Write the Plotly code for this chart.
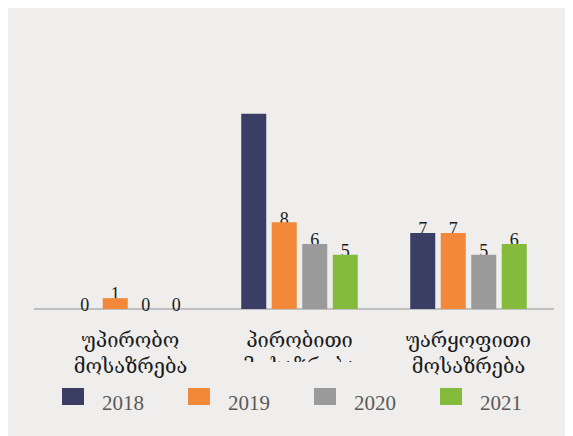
import plotly.graph_objects as go

categories = ["უპირობო<br>მოსაზრება", "პირობითი<br>მოსაზრება", "უარყოფითი<br>მოსაზრება"]
series_names = ["2018", "2019", "2020", "2021"]
values_2018 = [0, 18, 7]
values_2019 = [1, 8, 7]
values_2020 = [0, 6, 5]
values_2021 = [0, 5, 6]
labels_2018 = ["0", "", "7"]
labels_2019 = ["1", "8", "7"]
labels_2020 = ["0", "6", "5"]
labels_2021 = ["0", "5", "6"]
colors = ["#3B3E64", "#F2883A", "#999A99", "#84BB3C"]

all_values = [values_2018, values_2019, values_2020, values_2021]
all_labels = [labels_2018, labels_2019, labels_2020, labels_2021]

OFF = 8  # page body margin
W, H = 573 - OFF, 436 - OFF
ML, PW = 46 - OFF, 507
MR = W - ML - PW
BOTTOM_PAGE = 309
PH = 217
MT = BOTTOM_PAGE - OFF - PH
MB = H - MT - PH

def px(x):  # page pixel -> paper
    return (x - OFF - ML) / PW

def py(y):
    return (BOTTOM_PAGE - y) / PH

bargap = 0.278
bargroupgap = 0.18
n = len(series_names)
slot = (1 - bargap) / n
xs = list(range(len(categories)))

fig = go.Figure()

# value labels (drawn underneath bars)
for j in range(n):
    off = -(1 - bargap) / 2 + slot * (j + 0.5)
    fig.add_trace(go.Scatter(
        x=[x + off for x in xs], y=all_values[j], text=all_labels[j],
        mode="text", textposition="middle center",
        textfont=dict(family="Liberation Serif", size=18, color="#1a1a1a"),
        showlegend=False, hoverinfo="skip", xaxis="x", yaxis="y", cliponaxis=False,
    ))

for j in range(n):
    fig.add_trace(go.Bar(
        x=xs, y=all_values[j], name=series_names[j],
        marker=dict(color=colors[j], line=dict(width=0)),
        xaxis="x2", yaxis="y2", showlegend=False,
    ))

yr = [0, 20]
shift = 0.2
fig.update_layout(
    width=W, height=H,
    margin=dict(l=ML, r=MR, t=MT, b=MB),
    paper_bgcolor="#FFFFFF", plot_bgcolor="rgba(0,0,0,0)",
    barmode="group", bargap=bargap, bargroupgap=bargroupgap,
    xaxis=dict(range=[-0.5, 2.5], tickvals=xs, ticktext=categories,
               showgrid=False, zeroline=False, showline=False, ticks="",
               ticklabelstandoff=17,
               tickfont=dict(family="DejaVu Serif", size=20, color="#1a1a1a")),
    yaxis=dict(range=[yr[0] - shift, yr[1] - shift], visible=False),
    xaxis2=dict(range=[-0.5, 2.5], overlaying="x", visible=False),
    yaxis2=dict(range=yr, overlaying="y", visible=False),
)

shapes = [
    dict(type="rect", xref="paper", yref="paper", x0=px(OFF), x1=px(573), y0=py(OFF), y1=py(436),
         fillcolor="#EFEEEC", line=dict(width=0), layer="below"),
    dict(type="line", xref="paper", yref="paper", x0=px(34), x1=px(554), y0=0, y1=0,
         line=dict(color="#BFBFBF", width=2), layer="below"),
    # the reference's clipped second line under the middle category
    dict(type="rect", xref="paper", yref="paper", x0=px(240), x1=px(372), y0=py(362), y1=py(382),
         fillcolor="#EFEEEC", line=dict(width=0), layer="above"),
]
annotations = []
for j, name in enumerate(series_names):
    x0 = 62 + 126 * j
    shapes.append(dict(type="rect", xref="paper", yref="paper", x0=px(x0), x1=px(x0 + 22),
                       y0=py(405), y1=py(388), fillcolor=colors[j], line=dict(width=0)))
    annotations.append(dict(x=px(x0 + 38), y=py(403), xref="paper", yref="paper", text=name,
                            showarrow=False, xanchor="left", yanchor="middle",
                            font=dict(family="Liberation Serif", size=21, color="#595959")))
fig.update_layout(shapes=shapes, annotations=annotations)

fig.write_html("out.html")
